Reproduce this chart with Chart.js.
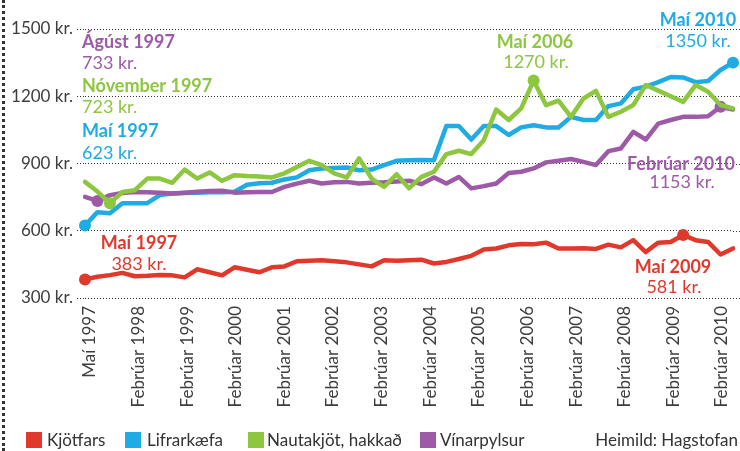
<!DOCTYPE html>
<html>
<head>
<meta charset="utf-8">
<script src="https://cdn.jsdelivr.net/npm/chart.js@4"></script>
<style>
  body { margin: 0; background: #fff; }
  #wrap { position: relative; width: 740px; height: 451px; overflow: hidden; font-family: Lato, sans-serif; }
  #dots { position: absolute; left: 2px; top: 0; height: 451px; border-left: 3px dotted #333; }
  #legend { position: absolute; left: 0; top: 0; width: 740px; height: 451px; pointer-events: none; }
  .sq { position: absolute; top: 432px; width: 16px; height: 16px; }
  .lt { position: absolute; top: 429px; font-size: 17px; line-height: 22px; color: #333; white-space: nowrap; }
</style>
</head>
<body>
<div id="wrap">
  <canvas id="chart" width="740" height="451"></canvas>
  <div id="dots"></div>
  <div id="legend"></div>
</div>
<script>
// series names and colours
const seriesNames = ['Kjötfars', 'Lifrarkæfa', 'Nautakjöt, hakkað', 'Vínarpylsur'];
const seriesColors = ['#e0392c', '#1fabe3', '#8dc63f', '#9d5ba7'];

// quarterly prices, kr. (Maí 1997 - Maí 2010)
const kjotfars = [383,395,402,412,397,399,403,401,392,428,415,401,437,426,415,437,441,464,466,468,
  464,459,450,441,468,466,468,471,454,461,474,488,516,521,535,541,540,547,521,521,
  522,519,538,526,558,505,547,550,581,558,550,494,521];
const lifrarkaefa = [623,683,678,723,723,723,759,766,768,770,772,772,774,
  805,812,814,829,838,870,878,880,882,870,873,893,912,915,
  916,915,1067,1067,1007,1067,1067,1027,1061,1071,1061,1061,1108,
  1094,1094,1156,1168,1231,1243,1263,1286,1284,1263,1268,1317,1350];
const nautakjot = [818,775,723,773,781,833,833,814,873,833,860,823,848,
  844,842,838,856,884,912,893,856,838,923,833,796,852,789,
  840,863,942,957,942,1004,1141,1094,1146,1270,1160,1180,1108,
  1190,1224,1108,1131,1161,1250,1225,1200,1175,1250,1220,1161,1146];
const vinarpylsur = [751,733,759,768,773,772,770,766,770,774,777,778,770,
  772,773,773,796,810,823,811,816,818,811,814,816,820,823,
  808,838,811,840,789,799,811,858,863,878,905,912,920,
  907,893,955,967,1041,1007,1078,1094,1108,1108,1111,1153,1141];

// marked points (index into the quarters)
const marked = [[0, 48], [0, 52], [2, 36], [1, 51]];

// quarter labels
const months = ['Maí', 'Ágúst', 'Nóvember', 'Febrúar'];
const quarters = [];
for (let i = 0; i < kjotfars.length; i++) {
  const m = i % 4;
  const year = 1997 + Math.floor((i + 1) / 4);
  quarters.push(months[m] + ' ' + year);
}

const xTickLabels = ['Maí 1997', 'Febrúar 1998', 'Febrúar 1999', 'Febrúar 2000', 'Febrúar 2001',
  'Febrúar 2002', 'Febrúar 2003', 'Febrúar 2004', 'Febrúar 2005', 'Febrúar 2006',
  'Febrúar 2007', 'Febrúar 2008', 'Febrúar 2009', 'Febrúar 2010'];
const yTicks = [300, 600, 900, 1200, 1500];

// annotation texts
const notes = [
  { t: 'Ágúst 1997', x: 82, y: 48, c: 3, b: true, a: 'left' },
  { t: '733 kr.', x: 82, y: 69, c: 3, b: false, a: 'left' },
  { t: 'Nóvember 1997', x: 82, y: 92, c: 2, b: true, a: 'left' },
  { t: '723 kr.', x: 82, y: 113, c: 2, b: false, a: 'left' },
  { t: 'Maí 1997', x: 82, y: 137, c: 1, b: true, a: 'left' },
  { t: '623 kr.', x: 82, y: 159, c: 1, b: false, a: 'left' },
  { t: 'Maí 2010', x: 698, y: 26, c: 1, b: true, a: 'center' },
  { t: '1350 kr.', x: 698, y: 47, c: 1, b: false, a: 'center' },
  { t: 'Maí 2006', x: 535, y: 48, c: 2, b: true, a: 'center' },
  { t: '1270 kr.', x: 536, y: 68, c: 2, b: false, a: 'center' },
  { t: 'Febrúar 2010', x: 681, y: 170, c: 3, b: true, a: 'center' },
  { t: '1153 kr.', x: 682, y: 188, c: 3, b: false, a: 'center' },
  { t: 'Maí 1997', x: 139, y: 249, c: 0, b: true, a: 'center' },
  { t: '383 kr.', x: 139, y: 270, c: 0, b: false, a: 'center' },
  { t: 'Maí 2009', x: 673, y: 273, c: 0, b: true, a: 'center' },
  { t: '581 kr.', x: 674, y: 293, c: 0, b: false, a: 'center' }
];

const notesPlugin = {
  id: 'notes',
  beforeDatasetsDraw(chart) {
    // dotted grid lines run on to the right edge
    const ctx = chart.ctx;
    const y = chart.scales.y;
    ctx.save();
    ctx.strokeStyle = '#333';
    ctx.lineWidth = 1;
    ctx.setLineDash([1, 2]);
    yTicks.forEach(v => {
      const py = Math.round(y.getPixelForValue(v)) + 0.5;
      ctx.beginPath();
      ctx.moveTo(chart.chartArea.right, py);
      ctx.lineTo(chart.width, py);
      ctx.stroke();
    });
    ctx.restore();
  },
  afterDatasetsDraw(chart) {
    const ctx = chart.ctx;
    ctx.save();
    ctx.textBaseline = 'alphabetic';
    notes.forEach(n => {
      ctx.font = (n.b ? '700 ' : '400 ') + '18px Lato';
      ctx.fillStyle = seriesColors[n.c];
      ctx.textAlign = n.a;
      ctx.fillText(n.t, n.x, n.y);
    });
    ctx.restore();
  }
};

const allSeries = [kjotfars, lifrarkaefa, nautakjot, vinarpylsur];
const drawOrder = [0, 3, 1, 2];

const datasets = allSeries.map((data, s) => ({
  label: seriesNames[s],
  data: data,
  xAxisID: 'x',
  borderColor: seriesColors[s],
  backgroundColor: seriesColors[s],
  borderWidth: 4.5,
  borderJoinStyle: 'round',
  borderCapStyle: 'round',
  tension: 0,
  order: drawOrder[s],
  pointRadius: ctx => marked[s].includes(ctx.dataIndex) ? 6 : 0,
  pointBorderWidth: 0,
  pointHoverRadius: 0
}));

new Chart(document.getElementById('chart'), {
  type: 'line',
  data: { labels: quarters, datasets },
  options: {
    responsive: false,
    animation: false,
    layout: { padding: { top: 29, right: 7, left: 0, bottom: 0 } },
    plugins: { legend: { display: false }, tooltip: { enabled: false } },
    scales: {
      x: { type: 'category', display: false },
      x2: {
        type: 'linear',
        position: 'bottom',
        min: -0.103,
        max: 13.23,
        grid: { display: false, drawTicks: false },
        border: { display: false },
        ticks: {
          autoSkip: false,
          minRotation: 90,
          maxRotation: 90,
          padding: 8,
          color: '#3d3d3d',
          font: { family: 'Lato', size: 17 },
          callback: v => xTickLabels[v]
        },
        afterBuildTicks: s => { s.ticks = xTickLabels.map((_, i) => ({ value: i })); },
        afterFit: s => { s.height = 153; s.paddingLeft = 0; s.paddingRight = 0; }
      },
      y: {
        min: 300,
        max: 1500,
        afterBuildTicks: s => { s.ticks = yTicks.map(v => ({ value: v })); },
        ticks: {
          padding: 4,
          color: '#3d3d3d',
          font: { family: 'Lato', size: 17 },
          callback: v => v + ' kr.'
        },
        grid: { color: '#333', lineWidth: 1, tickLength: 8, tickBorderDash: [1, 2], tickColor: '#333' },
        border: { display: false, dash: [1, 2] },
        afterFit: s => { s.width = 85; }
      }
    }
  },
  plugins: [notesPlugin]
});

// legend
const legend = document.getElementById('legend');
const sqX = [26, 125, 248, 420];
const txX = [47, 147, 267, 440];
seriesNames.forEach((name, i) => {
  const sq = document.createElement('div');
  sq.className = 'sq';
  sq.style.left = sqX[i] + 'px';
  sq.style.background = seriesColors[i];
  legend.appendChild(sq);
  const tx = document.createElement('div');
  tx.className = 'lt';
  tx.style.left = txX[i] + 'px';
  tx.textContent = name;
  legend.appendChild(tx);
});
const src = document.createElement('div');
src.className = 'lt';
src.style.right = '2px';
src.textContent = 'Heimild: Hagstofan';
legend.appendChild(src);
</script>
</body>
</html>
